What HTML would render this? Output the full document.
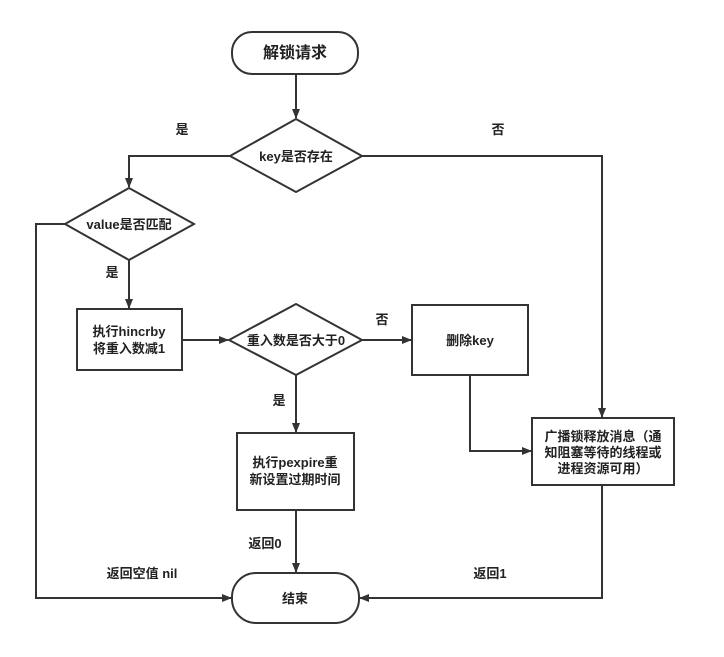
<!DOCTYPE html>
<html><head><meta charset="utf-8"><style>
body{margin:0;background:#fff}
svg text{font-family:"Liberation Sans","Noto Sans CJK SC",sans-serif;font-weight:bold;font-size:13px;fill:#222}
</style></head><body>
<svg width="724" height="652" viewBox="0 0 724 652">
<defs><marker id="a" markerWidth="10" markerHeight="10" refX="9" refY="5" orient="auto" markerUnits="userSpaceOnUse"><path d="M0,1 L10,5 L0,9 Z" fill="#333"/></marker></defs>
<g fill="none" stroke="#333" stroke-width="2">
<rect x="232" y="32" width="126" height="42" rx="20"/>
<polygon points="230,156 296,119 362,156 296,192"/>
<polygon points="65,224 129,188 194,224 129,260"/>
<rect x="77" y="309" width="105" height="61"/>
<polygon points="229,340 296,304 362,340 296,375"/>
<rect x="412" y="305" width="116" height="70"/>
<rect x="237" y="433" width="117" height="77"/>
<rect x="532" y="418" width="142" height="67"/>
<rect x="232" y="573" width="127" height="50" rx="24"/>
<g marker-end="url(#a)">
<path d="M296,74 V118"/>
<path d="M230,156 H129 V187"/>
<path d="M362,156 H602 V417"/>
<path d="M129,260 V308"/>
<path d="M65,224 H36 V598 H231"/>
<path d="M182,340 H228"/>
<path d="M362,340 H411"/>
<path d="M296,375 V432"/>
<path d="M470,375 V451 H531"/>
<path d="M296,510 V572"/>
<path d="M602,485 V598 H360"/>
</g></g>
<text x="295" y="58" text-anchor="middle" font-size="16" style="font-size:16px">解锁请求</text>
<text x="296" y="161" text-anchor="middle">key是否存在</text>
<text x="129" y="229" text-anchor="middle">value是否匹配</text>
<text x="129" y="336" text-anchor="middle">执行hincrby</text>
<text x="129" y="353" text-anchor="middle">将重入数减1</text>
<text x="296" y="345" text-anchor="middle">重入数是否大于0</text>
<text x="470" y="345" text-anchor="middle">删除key</text>
<text x="295" y="467" text-anchor="middle">执行pexpire重</text>
<text x="295" y="484" text-anchor="middle">新设置过期时间</text>
<text x="603" y="441" text-anchor="middle">广播锁释放消息（通</text>
<text x="603" y="457" text-anchor="middle">知阻塞等待的线程或</text>
<text x="603" y="473" text-anchor="middle">进程资源可用）</text>
<text x="295" y="603" text-anchor="middle">结束</text>
<text x="182" y="134" text-anchor="middle">是</text>
<text x="498" y="134" text-anchor="middle">否</text>
<text x="112" y="277" text-anchor="middle">是</text>
<text x="382" y="324" text-anchor="middle">否</text>
<text x="279" y="405" text-anchor="middle">是</text>
<text x="265" y="548" text-anchor="middle">返回0</text>
<text x="142" y="578" text-anchor="middle">返回空值 nil</text>
<text x="490" y="578" text-anchor="middle">返回1</text>
</svg>
</body></html>
